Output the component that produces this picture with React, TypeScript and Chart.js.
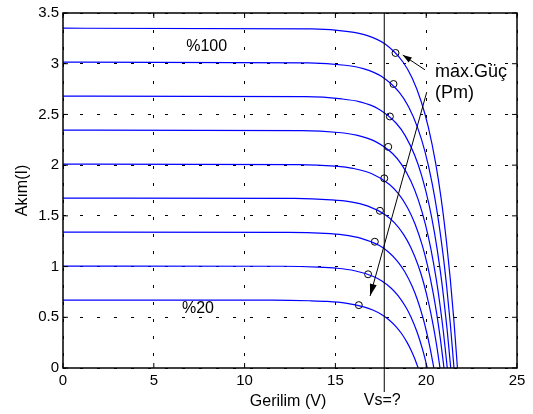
import React, { useEffect, useRef } from 'react';
import { Chart, registerables } from 'chart.js';

Chart.register(...registerables);

// ---- Data ----
const xTickLabels = ['0', '5', '10', '15', '20', '25'];
const yTickLabels = ['0', '0.5', '1', '1.5', '2', '2.5', '3', '3.5'];

const v100 = [0, 13.72, 15.72, 16.72, 17.72, 18.72, 19.22, 19.72, 20.12, 20.52, 20.82, 21.12, 21.32, 21.52, 21.72];
const i100 = [3.35, 3.343, 3.317, 3.28, 3.196, 3.017, 2.861, 2.63, 2.372, 2.02, 1.675, 1.24, 0.888, 0.479, 0];
const v90 = [0, 13.53, 15.53, 16.53, 17.53, 18.53, 19.03, 19.53, 19.93, 20.33, 20.63, 20.93, 21.13, 21.33, 21.53];
const i90 = [3.015, 3.009, 2.985, 2.952, 2.876, 2.715, 2.575, 2.367, 2.135, 1.818, 1.508, 1.116, 0.799, 0.431, 0];
const v80 = [0, 13.35, 15.35, 16.35, 17.35, 18.35, 18.85, 19.35, 19.75, 20.15, 20.45, 20.75, 20.95, 21.15, 21.35];
const i80 = [2.68, 2.675, 2.653, 2.624, 2.557, 2.413, 2.289, 2.104, 1.897, 1.616, 1.34, 0.992, 0.71, 0.383, 0];
const v70 = [0, 13.16, 15.16, 16.16, 17.16, 18.16, 18.66, 19.16, 19.56, 19.96, 20.26, 20.56, 20.76, 20.96, 21.16];
const i70 = [2.345, 2.34, 2.322, 2.296, 2.237, 2.112, 2.003, 1.841, 1.66, 1.414, 1.173, 0.868, 0.621, 0.335, 0];
const v60 = [0, 12.98, 14.98, 15.98, 16.98, 17.98, 18.48, 18.98, 19.38, 19.78, 20.08, 20.38, 20.58, 20.78, 20.98];
const i60 = [2.01, 2.006, 1.99, 1.968, 1.918, 1.81, 1.717, 1.578, 1.423, 1.212, 1.005, 0.744, 0.533, 0.287, 0];
const v50 = [0, 12.76, 14.76, 15.76, 16.76, 17.76, 18.26, 18.76, 19.16, 19.56, 19.86, 20.16, 20.36, 20.56, 20.76];
const i50 = [1.675, 1.672, 1.658, 1.64, 1.598, 1.508, 1.43, 1.315, 1.186, 1.01, 0.838, 0.62, 0.444, 0.24, 0];
const v40 = [0, 12.42, 14.42, 15.42, 16.42, 17.42, 17.92, 18.42, 18.82, 19.22, 19.52, 19.82, 20.02, 20.22, 20.42];
const i40 = [1.34, 1.337, 1.327, 1.312, 1.278, 1.207, 1.144, 1.052, 0.949, 0.808, 0.67, 0.496, 0.355, 0.192, 0];
const v30 = [0, 12.06, 14.06, 15.06, 16.06, 17.06, 17.56, 18.06, 18.46, 18.86, 19.16, 19.46, 19.66, 19.86, 20.06];
const i30 = [1.005, 1.003, 0.995, 0.984, 0.959, 0.905, 0.858, 0.789, 0.712, 0.606, 0.503, 0.372, 0.266, 0.144, 0];
const v20 = [0, 11.56, 13.56, 14.56, 15.56, 16.56, 17.06, 17.56, 17.96, 18.36, 18.66, 18.96, 19.16, 19.36, 19.56];
const i20 = [0.67, 0.669, 0.663, 0.656, 0.639, 0.603, 0.572, 0.526, 0.474, 0.404, 0.335, 0.248, 0.178, 0.096, 0];

const curveNames = ['%100', '%90', '%80', '%70', '%60', '%50', '%40', '%30', '%20'];
const curveVoltages = [v100, v90, v80, v70, v60, v50, v40, v30, v20];
const curveCurrents = [i100, i90, i80, i70, i60, i50, i40, i30, i20];

const mppVoltage = [18.31, 18.2, 18.0, 17.91, 17.69, 17.45, 17.17, 16.8, 16.29];
const mppCurrent = [3.106, 2.8, 2.48, 2.18, 1.87, 1.55, 1.245, 0.924, 0.62];

const vsVoltage = 17.69;

const FONT = "'Liberation Sans', Arial, Helvetica, sans-serif";

const overlayPlugin = {
  id: 'matlabOverlay',
  afterDraw(chart: any) {
    const ctx = chart.ctx;
    const { left, right, top, bottom } = chart.chartArea;
    const xs = chart.scales.x;
    const ys = chart.scales.y;
    const px = (v: number) => xs.getPixelForValue(v);
    const py = (v: number) => ys.getPixelForValue(v);
    ctx.save();
    ctx.strokeStyle = '#000';
    ctx.fillStyle = '#000';

    // box
    ctx.lineWidth = 1.5;
    ctx.strokeRect(left, top, right - left, bottom - top);

    // inward tick marks on all sides
    ctx.lineWidth = 1;
    xTickLabels.forEach((t) => {
      const x = px(parseFloat(t));
      ctx.beginPath();
      ctx.moveTo(x, bottom); ctx.lineTo(x, bottom - 5);
      ctx.moveTo(x, top); ctx.lineTo(x, top + 5);
      ctx.stroke();
    });
    yTickLabels.forEach((t) => {
      const y = py(parseFloat(t));
      ctx.beginPath();
      ctx.moveTo(left, y); ctx.lineTo(left + 5, y);
      ctx.moveTo(right, y); ctx.lineTo(right - 5, y);
      ctx.stroke();
    });

    // Vs vertical line
    const vx = px(vsVoltage);
    ctx.lineWidth = 1;
    ctx.beginPath();
    ctx.moveTo(vx, top);
    ctx.lineTo(vx, bottom + 24);
    ctx.stroke();

    const arrow = (x0: number, y0: number, x1: number, y1: number, len: number, half: number) => {
      ctx.beginPath();
      ctx.moveTo(x0, y0);
      ctx.lineTo(x1, y1);
      ctx.stroke();
      const a = Math.atan2(y1 - y0, x1 - x0);
      ctx.beginPath();
      ctx.moveTo(x1, y1);
      ctx.lineTo(x1 - len * Math.cos(a) + half * Math.sin(a), y1 - len * Math.sin(a) - half * Math.cos(a));
      ctx.lineTo(x1 - len * Math.cos(a) - half * Math.sin(a), y1 - len * Math.sin(a) + half * Math.cos(a));
      ctx.closePath();
      ctx.fill();
    };
    arrow(px(20.03), py(2.72), px(16.91), py(0.71), 12, 3.5);
    arrow(px(19.93), py(2.94), px(18.71), py(3.085), 9, 3);

    // texts
    ctx.font = `16px ${FONT}`;
    ctx.textBaseline = 'middle';
    ctx.textAlign = 'center';
    ctx.fillText('%100', px(7.91), py(3.167));
    ctx.fillText('%20', px(7.43), py(0.584));
    ctx.fillText('Vs=?', vx - 2, bottom + 33);
    ctx.fillText('Gerilim (V)', (left + right) / 2 - 2, bottom + 34);

    ctx.save();
    ctx.translate(23, (top + bottom) / 2);
    ctx.rotate(-Math.PI / 2);
    ctx.fillText('Akım(I)', 0, 0);
    ctx.restore();

    ctx.font = `18px ${FONT}`;
    ctx.textAlign = 'left';
    ctx.fillText('max.Güç', px(20.48), py(2.92));
    ctx.fillText('(Pm)', px(20.48), py(2.707));

    ctx.restore();
  },
};

export default function App() {
  const canvasRef = useRef<HTMLCanvasElement | null>(null);

  useEffect(() => {
    document.body.style.margin = '0';
    const canvas = canvasRef.current;
    if (!canvas) return;

    const curveDatasets = curveNames.map((name, k) => ({
      type: 'scatter' as const,
      label: name,
      data: curveVoltages[k].map((v, j) => ({ x: v, y: curveCurrents[k][j] })),
      showLine: true,
      borderColor: 'rgb(0,0,255)',
      borderWidth: 1.2,
      pointRadius: 0,
      cubicInterpolationMode: 'monotone' as const,
      fill: false,
    }));

    const mppDataset = {
      type: 'scatter' as const,
      label: 'max.Güç (Pm)',
      data: mppVoltage.map((v, j) => ({ x: v, y: mppCurrent[j] })),
      showLine: false,
      pointRadius: 3.5,
      pointBorderColor: '#000',
      pointBackgroundColor: 'rgba(0,0,0,0)',
      pointBorderWidth: 1,
    };

    const chart = new Chart(canvas, {
      type: 'scatter',
      data: { datasets: [...curveDatasets, mppDataset] as any },
      options: {
        responsive: false,
        animation: false,
        layout: { padding: { left: 0, right: 16, top: 9, bottom: 0 } },
        plugins: { legend: { display: false }, tooltip: { enabled: false } },
        scales: {
          x: {
            type: 'linear',
            min: 0,
            max: 25,
            afterFit: (s: any) => { s.height = 46; },
            ticks: {
              stepSize: 5,
              padding: 4,
              color: '#000',
              font: { family: FONT, size: 15 },
              maxRotation: 0,
              callback: (v: any) => {
                const i = Math.round(Number(v) / 5);
                return xTickLabels[i] ?? '';
              },
            },
            grid: { color: '#000', lineWidth: 1, drawTicks: false },
            border: { display: false, dash: [3, 14] },
          },
          y: {
            type: 'linear',
            min: 0,
            max: 3.5,
            afterFit: (s: any) => { s.width = 63; },
            ticks: {
              stepSize: 0.5,
              padding: 4,
              color: '#000',
              font: { family: FONT, size: 15 },
              callback: (v: any) => {
                const i = Math.round(Number(v) / 0.5);
                return yTickLabels[i] ?? '';
              },
            },
            grid: { color: '#000', lineWidth: 1, drawTicks: false },
            border: { display: false, dash: [3, 14] },
          },
        },
      },
      plugins: [overlayPlugin],
    });

    return () => chart.destroy();
  }, []);

  return (
    <div style={{ width: 533, height: 414, background: '#fff' }}>
      <canvas ref={canvasRef} width={533} height={414} style={{ display: 'block' }} />
    </div>
  );
}
